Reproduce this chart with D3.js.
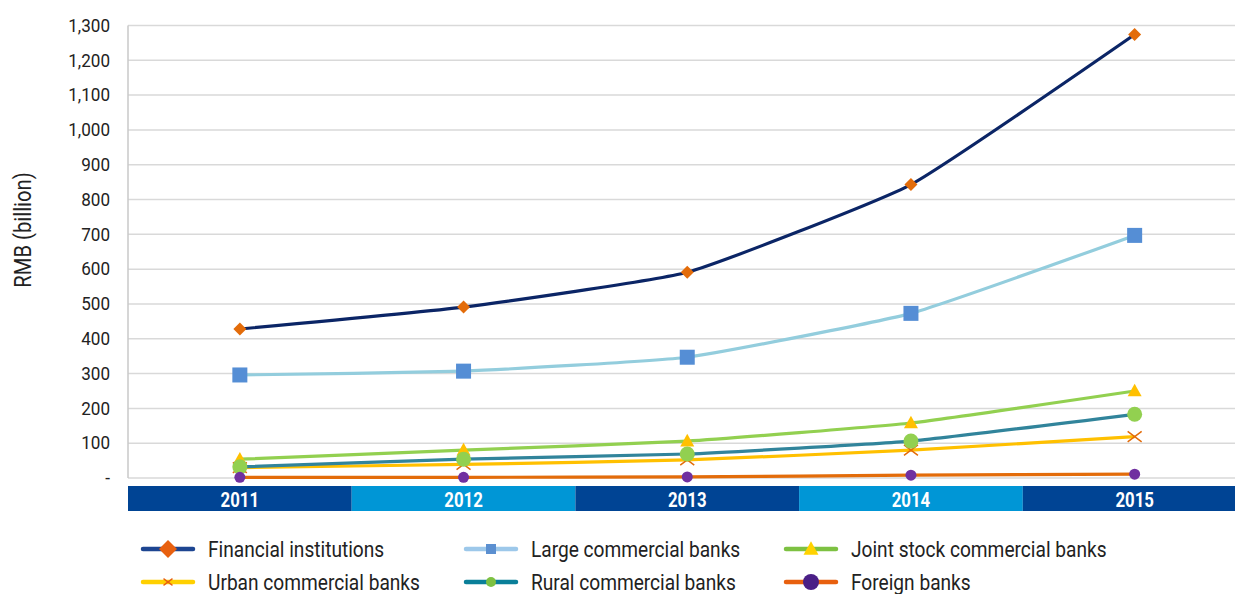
<!DOCTYPE html>
<html><head><meta charset="utf-8">
<script src="https://cdn.jsdelivr.net/npm/d3@7"></script>
<style>
html,body{margin:0;padding:0;background:#fff;}
svg{display:block;font-family:Roboto,"Liberation Sans",sans-serif;}
</style></head>
<body><svg id="c" width="1235" height="594"></svg>
<script>
const years = ["2011","2012","2013","2014","2015"];
const yTicks = [0,100,200,300,400,500,600,700,800,900,1000,1100,1200,1300];
const seriesNames = ["Financial institutions","Large commercial banks","Joint stock commercial banks","Urban commercial banks","Rural commercial banks","Foreign banks"];
const financial = [428, 491, 591, 843, 1274];
const large = [296, 307, 347, 473, 697];
const jointStock = [54, 80, 106, 158, 250];
const urban = [30, 39, 52, 80, 119];
const rural = [32, 54, 69, 106, 183];
const foreign = [2, 2, 3, 8, 11];

const styles = [
  {line:"#0b2566", legLine:"#1d4591", marker:"diamond", fill:"#e36c0a", size:13, leg:18},
  {line:"#93cddd", legLine:"#9dc8ea", marker:"square", fill:"#558ed5", size:15, leg:10},
  {line:"#92d050", legLine:"#7dc142", marker:"triangle", fill:"#ffc000", size:14, leg:15},
  {line:"#ffc000", legLine:"#ffd000", marker:"x", fill:"#e36c0a", size:14, leg:9},
  {line:"#31849b", legLine:"#0a7f99", marker:"circle", fill:"#92d050", size:15, leg:10},
  {line:"#e36c0a", legLine:"#e8600f", marker:"circle", fill:"#7030a0", size:11, leg:16}
];
const legFill = ["#e8600f","#5b8fd0","#ffd200","#e8600f","#7dc142","#4a1f86"];
const data = [financial, large, jointStock, urban, rural, foreign];

const svg = d3.select("#c");
const pLeft = 128, pTop = 25.5, pBottom = 478;
const x = d3.scaleBand().domain(years).range([128, 1246.5]);
const y = d3.scaleLinear().domain([0,1300]).range([pBottom, pTop]);

function condText(g, tx, ty, sx, txt){
  return g.append("text").attr("transform",`translate(${tx},${ty}) scale(${sx},1)`).text(txt);
}

svg.append("g").selectAll("line").data(yTicks).join("line")
  .attr("x1", pLeft).attr("x2", 1235)
  .attr("y1", d=>y(d)).attr("y2", d=>y(d))
  .attr("stroke", "#d9d9d9").attr("stroke-width", 1.5);
svg.append("line").attr("x1",pLeft).attr("x2",pLeft).attr("y1",pTop).attr("y2",pBottom)
  .attr("stroke","#c8c8c8").attr("stroke-width",1.5);

const yAxis = d3.axisLeft(y).tickValues(yTicks).tickSize(0).tickPadding(18)
  .tickFormat(d => d===0 ? "-" : d3.format(",")(d));
const ya = svg.append("g").attr("transform",`translate(${pLeft},0)`).call(yAxis);
ya.select(".domain").remove();
ya.attr("font-family",null).attr("font-size",null);
ya.selectAll("text").attr("font-size",18).attr("fill","#222")
  .attr("transform","scale(0.95,1)").attr("x",-18/0.95);

svg.append("g").attr("transform","translate(31,230) rotate(-90)")
  .call(g=>condText(g,0,0,0.88,"RMB (billion)").attr("text-anchor","middle").attr("font-size",23).attr("fill","#222"));

const band = svg.append("g");
band.selectAll("rect").data(years).join("rect")
  .attr("x", d=>x(d)).attr("width", x.bandwidth()).attr("y",486).attr("height",25)
  .attr("fill",(d,i)=> i%2===0 ? "#004494" : "#0096d6");
years.forEach(yr=>{
  condText(band, x(yr)+x.bandwidth()/2, 507.3, 0.8, yr)
    .attr("text-anchor","middle").attr("fill","#fff").attr("font-size",21).attr("font-weight","bold");
});

const cx = d => x(d)+x.bandwidth()/2;

function drawMarker(g, kind, fill, px, py, s, sw){
  if(kind==="diamond"){
    g.append("path").attr("d",`M${px},${py-s/2}L${px+s/2},${py}L${px},${py+s/2}L${px-s/2},${py}Z`).attr("fill",fill);
  } else if(kind==="square"){
    g.append("rect").attr("x",px-s/2).attr("y",py-s/2).attr("width",s).attr("height",s).attr("fill",fill);
  } else if(kind==="triangle"){
    const h = s*0.9;
    g.append("path").attr("d",`M${px},${py-h/2-1}L${px+s/2},${py+h/2-1}L${px-s/2},${py+h/2-1}Z`).attr("fill",fill);
  } else if(kind==="circle"){
    g.append("circle").attr("cx",px).attr("cy",py).attr("r",s/2).attr("fill",fill);
  } else if(kind==="x"){
    const h=s/2;
    g.append("path").attr("d",`M${px-h},${py-h*0.75}L${px+h},${py+h*0.75}M${px-h},${py+h*0.75}L${px+h},${py-h*0.75}`)
      .attr("stroke",fill).attr("stroke-width",sw||1.5).attr("fill","none");
  }
}

const line = d3.line().x((d,i)=>cx(years[i])).y(d=>y(d)).curve(d3.curveCardinal.tension(0.6));
data.forEach((vals, k)=>{
  const st = styles[k];
  const g = svg.append("g");
  g.append("path").datum(vals).attr("d", line).attr("fill","none")
    .attr("stroke", st.line).attr("stroke-width", 3.2).attr("stroke-linejoin","round");
  vals.forEach((v,i)=> drawMarker(g, st.marker, st.fill, cx(years[i]), y(v), st.size));
});

const legendPos = [[143,549],[466,549],[786,549],[143,582],[466,582],[786,582]];
seriesNames.forEach((name,k)=>{
  const st = styles[k];
  const [lx,ly] = legendPos[k];
  const g = svg.append("g");
  g.append("line").attr("x1",lx).attr("x2",lx+50).attr("y1",ly).attr("y2",ly)
    .attr("stroke",st.legLine).attr("stroke-width",4.5).attr("stroke-linecap","round");
  drawMarker(g, st.marker, legFill[k], lx+25, ly, st.leg, 1.3);
  condText(g, lx+65, ly+8, 0.85, name).attr("font-size",22.5).attr("fill","#222");
});
</script></body></html>
